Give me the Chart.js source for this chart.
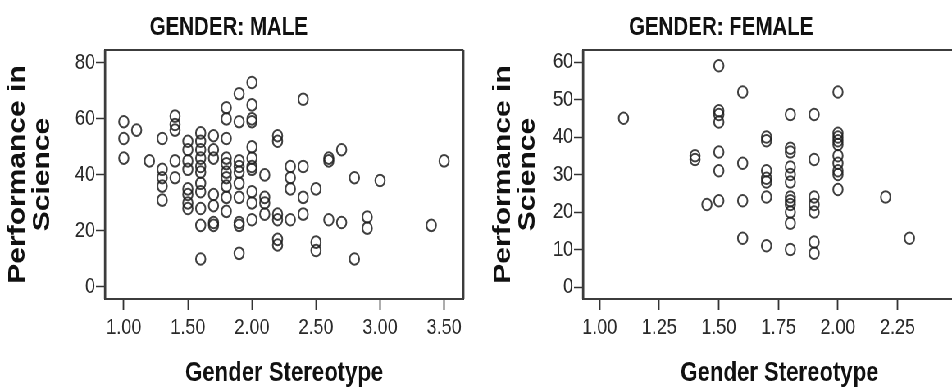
<!DOCTYPE html>
<html>
<head>
<meta charset="utf-8">
<script src="https://cdn.jsdelivr.net/npm/chart.js@4.4.1/dist/chart.umd.min.js"></script>
<style>
  html, body { margin: 0; padding: 0; background: #fff; width: 952px; height: 392px; overflow: hidden; position: relative; }
  /* the source image is horizontally squeezed, so draw wide and squeeze */
  #wrap { position: absolute; left: 0; top: 0; width: 1200px; height: 392px; transform: scaleX(0.82); transform-origin: 0 0; }
  #male { position: absolute; left: -10px; top: 0; }
  #female { position: absolute; left: 561px; top: 0; }
</style>
</head>
<body>
<div id="wrap">
  <canvas id="male" width="583" height="392"></canvas>
  <canvas id="female" width="637" height="392"></canvas>
</div>
<script>
// Male panel: gender stereotype score vs performance in science
const maleX = [
  1.00, 1.00, 1.00, 1.10, 1.20,
  1.30, 1.30, 1.30, 1.30, 1.30,
  1.40, 1.40, 1.40, 1.40, 1.40,
  1.50, 1.50, 1.50, 1.50, 1.50, 1.50, 1.50, 1.50,
  1.60, 1.60, 1.60, 1.60, 1.60, 1.60, 1.60, 1.60, 1.60, 1.60, 1.60,
  1.70, 1.70, 1.70, 1.70, 1.70, 1.70, 1.70,
  1.80, 1.80, 1.80, 1.80, 1.80, 1.80, 1.80, 1.80, 1.80, 1.80,
  1.90, 1.90, 1.90, 1.90, 1.90, 1.90, 1.90, 1.90, 1.90, 1.90,
  2.00, 2.00, 2.00, 2.00, 2.00, 2.00, 2.00, 2.00, 2.00, 2.00, 2.00,
  2.10, 2.10, 2.10, 2.10,
  2.20, 2.20, 2.20, 2.20, 2.20, 2.20,
  2.30, 2.30, 2.30, 2.30,
  2.40, 2.40, 2.40, 2.40,
  2.50, 2.50, 2.50,
  2.60, 2.60, 2.60,
  2.70, 2.70,
  2.80, 2.80,
  2.90, 2.90,
  3.00, 3.40, 3.50
];
const maleY = [
  59, 53, 46, 56, 45,
  53, 42, 39, 36, 31,
  61, 58, 56, 45, 39,
  52, 49, 45, 42, 35, 33, 30, 28,
  55, 52, 49, 46, 43, 41, 37, 34, 28, 22, 10,
  54, 49, 46, 33, 29, 23, 22,
  64, 60, 53, 46, 44, 41, 39, 36, 32, 27,
  69, 59, 45, 43, 41, 37, 32, 23, 22, 12,
  73, 65, 60, 59, 50, 46, 43, 42, 34, 30, 24,
  40, 32, 30, 26,
  54, 52, 26, 24, 17, 15,
  43, 39, 35, 24,
  67, 43, 32, 26,
  35, 16, 13,
  46, 45, 24,
  49, 23,
  39, 10,
  25, 21,
  38, 22, 45
];

// Female panel
const femaleX = [
  1.10, 1.40, 1.40, 1.45,
  1.50, 1.50, 1.50, 1.50, 1.50, 1.50, 1.50,
  1.60, 1.60, 1.60, 1.60,
  1.70, 1.70, 1.70, 1.70, 1.70, 1.70, 1.70,
  1.80, 1.80, 1.80, 1.80, 1.80, 1.80, 1.80, 1.80, 1.80, 1.80, 1.80, 1.80,
  1.90, 1.90, 1.90, 1.90, 1.90, 1.90, 1.90,
  2.00, 2.00, 2.00, 2.00, 2.00, 2.00, 2.00, 2.00, 2.00, 2.00,
  2.20, 2.30
];
const femaleY = [
  45, 35, 34, 22,
  59, 47, 46, 44, 36, 31, 23,
  52, 33, 23, 13,
  40, 39, 31, 29, 28, 24, 11,
  46, 37, 36, 32, 30, 28, 24, 23, 22, 20, 17, 10,
  46, 34, 24, 22, 20, 12, 9,
  52, 41, 40, 39, 38, 35, 33, 31, 30, 26,
  24, 13
];

const maleXTicks = [1.00, 1.50, 2.00, 2.50, 3.00, 3.50];
const maleYTicks = [0, 20, 40, 60, 80];
const femaleXTicks = [1.00, 1.25, 1.50, 1.75, 2.00, 2.25];
const femaleYTicks = [0, 10, 20, 30, 40, 50, 60];

const FONT = "'Liberation Sans', Arial, sans-serif";

// box round the plot area (vertical sides a bit thicker because of the squeeze)
const frame = {
  id: 'frame',
  afterDatasetsDraw(chart) {
    const { ctx, chartArea: a } = chart;
    ctx.save();
    ctx.strokeStyle = '#3c3c3c';
    ctx.lineWidth = 2;
    ctx.beginPath();
    ctx.moveTo(a.left, a.top); ctx.lineTo(a.right, a.top);
    ctx.moveTo(a.left, a.bottom); ctx.lineTo(a.right, a.bottom);
    ctx.stroke();
    ctx.lineWidth = 2.4;
    ctx.beginPath();
    ctx.moveTo(a.left, a.top); ctx.lineTo(a.left, a.bottom);
    ctx.moveTo(a.right, a.top); ctx.lineTo(a.right, a.bottom);
    ctx.stroke();
    ctx.restore();
  }
};

function scatter(id, title, xs, ys, xTicks, yTicks, box) {
  const pts = xs.map((x, i) => ({ x: x, y: ys[i] }));
  return new Chart(document.getElementById(id), {
    type: 'scatter',
    data: {
      datasets: [{
        data: pts,
        pointStyle: 'circle',
        pointRadius: 5.8,
        pointHoverRadius: 5.8,
        borderWidth: 2,
        borderColor: 'rgba(30,30,30,0.85)',
        backgroundColor: 'rgba(0,0,0,0)'
      }]
    },
    options: {
      responsive: false,
      animation: false,
      events: [],
      layout: { padding: { left: 0, right: box.padRight, top: 0, bottom: 0 } },
      plugins: {
        legend: { display: false },
        tooltip: { enabled: false },
        title: {
          display: true,
          text: title,
          color: '#111',
          font: { family: FONT, size: 25, weight: 'bold' },
          padding: { top: 13, bottom: 7 }
        }
      },
      scales: {
        x: {
          type: 'linear',
          min: box.xMin,
          max: box.xMax,
          afterBuildTicks: s => { s.ticks = xTicks.map(v => ({ value: v })); },
          afterFit: s => { s.height = 93; },
          grid: { drawOnChartArea: false, drawTicks: true, tickLength: 11, tickColor: '#333', tickWidth: 1.8 },
          border: { display: true, color: '#333', width: 2 },
          ticks: {
            color: '#2a2a2a',
            padding: 5,
            maxRotation: 0,
            autoSkip: false,
            font: { family: FONT, size: 22 },
            callback: v => Number(v).toFixed(2)
          },
          title: {
            display: true,
            text: 'Gender Stereotype',
            color: '#111',
            font: { family: FONT, size: 27, weight: 'bold' },
            padding: { top: 0, bottom: 2 }
          }
        },
        y: {
          type: 'linear',
          min: box.yMin,
          max: box.yMax,
          afterBuildTicks: s => { s.ticks = yTicks.map(v => ({ value: v })); },
          afterFit: s => { s.width = box.yWidth; },
          grid: { drawOnChartArea: false, drawTicks: true, tickLength: 11, tickColor: '#333', tickWidth: 1.5 },
          border: { display: true, color: '#333', width: 2.4 },
          ticks: {
            color: '#2a2a2a',
            padding: 1,
            autoSkip: false,
            font: { family: FONT, size: 22 }
          },
          title: {
            display: true,
            text: ['Performance in', 'Science'],
            color: '#111',
            font: { family: FONT, size: 30, weight: 'bold', lineHeight: 1.0 },
            padding: { top: box.titlePad, bottom: 0 }
          }
        }
      }
    },
    plugins: [frame]
  });
}

scatter('male', 'GENDER: MALE', maleX, maleY, maleXTicks, maleYTicks, {
  xMin: 0.853, xMax: 3.651, yMin: -4.3, yMax: 84.6,
  yWidth: 138, padRight: 5, titlePad: 17
});

scatter('female', 'GENDER: FEMALE', femaleX, femaleY, femaleXTicks, femaleYTicks, {
  xMin: 0.93, xMax: 2.579, yMin: -3.2, yMax: 63.2,
  yWidth: 150, padRight: 0, titlePad: 37.4
});
</script>
</body>
</html>
